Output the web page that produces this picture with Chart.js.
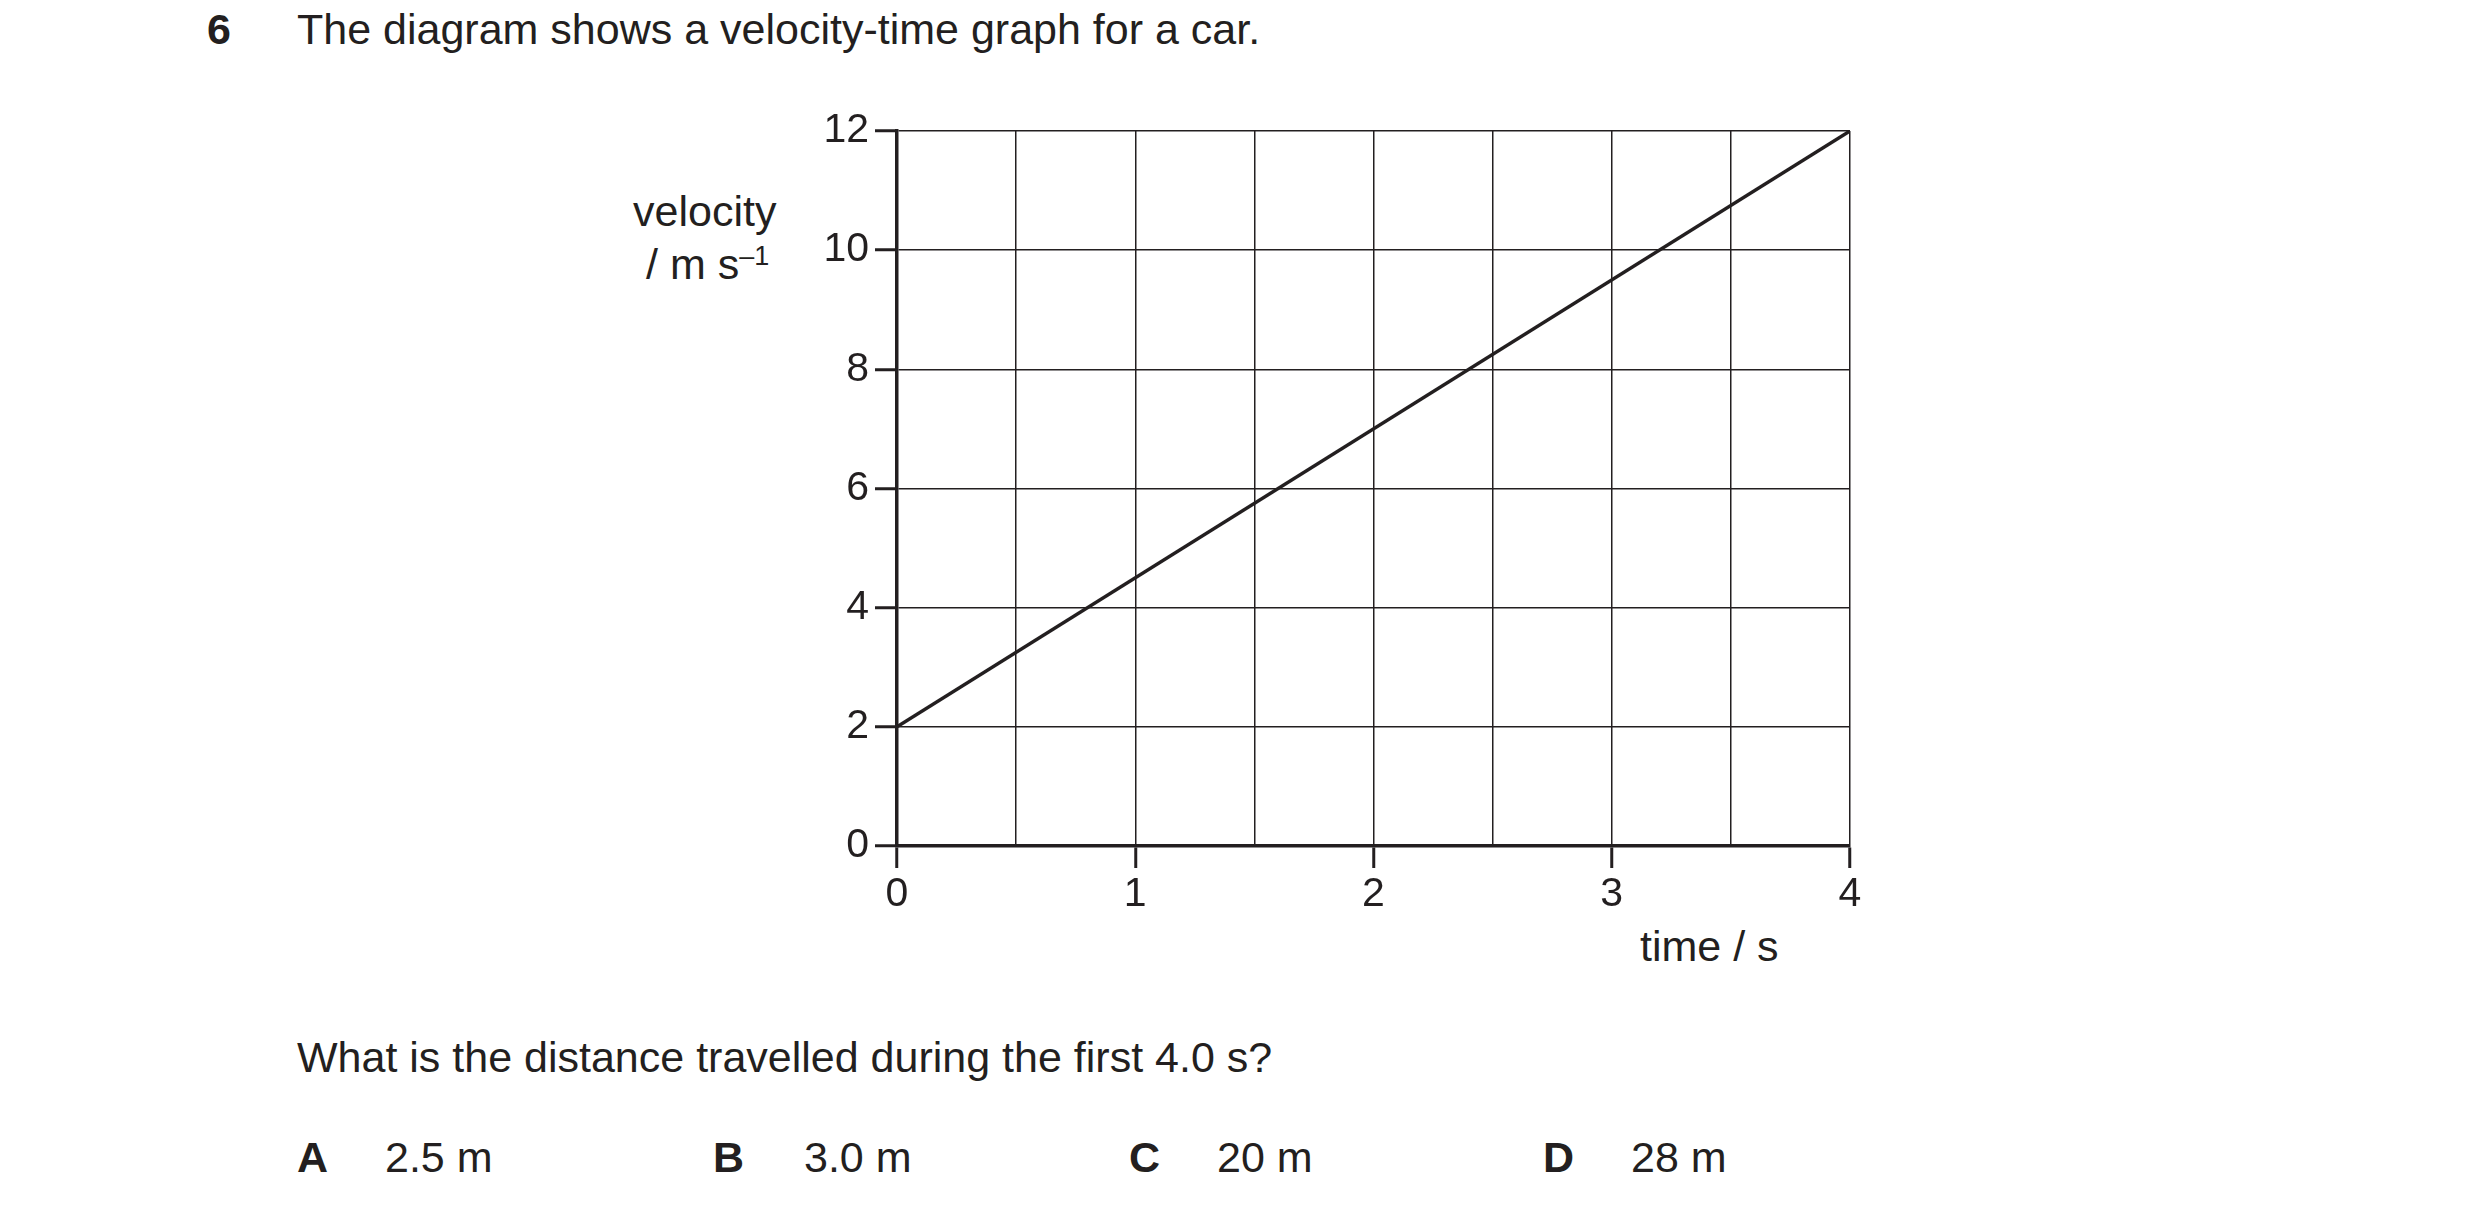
<!DOCTYPE html>
<html><head><meta charset="utf-8">
<script src="https://cdn.jsdelivr.net/npm/chart.js@4"></script>
<style>
body{margin:0;width:2480px;height:1205px;background:#fff;font-family:Arial,"Liberation Sans",sans-serif;color:#231f20;position:relative;overflow:hidden}
.t{position:absolute;font-size:43px;white-space:nowrap;line-height:1}
b{font-weight:bold}
#wrap{position:absolute;left:700px;top:100px;width:1200px;height:846px}
</style></head><body>
<div class="t" style="left:207px;top:8px"><b>6</b></div>
<div class="t" style="left:297px;top:8px">The diagram shows a velocity-time graph for a car.</div>
<div class="t" style="left:633px;top:190px">velocity</div>
<div class="t" style="left:646px;top:243px">/ m s<sup style="font-size:27px;vertical-align:14px">–1</sup></div>
<div class="t" style="left:1640px;top:925px">time / s</div>
<div class="t" style="left:297px;top:1036px">What is the distance travelled during the first 4.0 s?</div>
<div class="t" style="left:297px;top:1136px"><b>A</b></div><div class="t" style="left:385px;top:1136px">2.5 m</div>
<div class="t" style="left:713px;top:1136px"><b>B</b></div><div class="t" style="left:804px;top:1136px">3.0 m</div>
<div class="t" style="left:1129px;top:1136px"><b>C</b></div><div class="t" style="left:1217px;top:1136px">20 m</div>
<div class="t" style="left:1543px;top:1136px"><b>D</b></div><div class="t" style="left:1631px;top:1136px">28 m</div>
<div id="wrap"><canvas id="c"></canvas></div>
<script>
const timeValues=[0,4];
const velocityValues=[2,12];
const xTicks=[0,1,2,3,4];
const yTicks=[0,2,4,6,8,10,12];
new Chart(document.getElementById('c'),{
 type:'scatter',
 data:{datasets:[{data:timeValues.map((t,i)=>({x:t,y:velocityValues[i]})),showLine:true,borderColor:'#231f20',borderWidth:3.5,pointRadius:0,fill:false}]},
 options:{responsive:true,maintainAspectRatio:false,animation:false,
  layout:{padding:{top:31,right:50,left:0,bottom:0}},
  plugins:{legend:{display:false},tooltip:{enabled:false}},
  scales:{
   x:{type:'linear',min:0,max:4,
    afterFit:s=>{s.height=100},
    afterBuildTicks:s=>{const a=[];for(let v=0;v<=4;v+=0.5)a.push({value:v});s.ticks=a;},
    border:{color:'#231f20',width:3.5},
    grid:{color:'#231f20',lineWidth:1.5,tickLength:22,tickColor:c=>Number.isInteger(c.tick.value)?'#231f20':'rgba(0,0,0,0)',tickWidth:3},
    ticks:{color:'#231f20',font:{size:41,family:'Arial'},padding:2,maxRotation:0,autoSkip:false,callback:v=>xTicks.includes(v)?String(v):''}},
   y:{type:'linear',min:0,max:12,
    afterFit:s=>{s.width=197},
    afterBuildTicks:s=>{s.ticks=yTicks.map(v=>({value:v}));},
    border:{color:'#231f20',width:3.5},
    grid:{color:'#231f20',lineWidth:1.5,tickLength:22,tickColor:'#231f20',tickWidth:3},
    ticks:{color:'#231f20',font:{size:41,family:'Arial'},padding:6}}
  }}
});
</script></body></html>
